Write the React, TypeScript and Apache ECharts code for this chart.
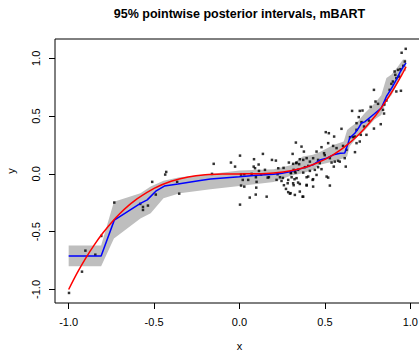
import React, { useEffect, useRef } from "react";
import * as echarts from "echarts";

const TITLE = "95% pointwise posterior intervals, mBART";
const X_TICKS = [-1, -0.5, 0, 0.5, 1];
const Y_TICKS = [-1, -0.5, 0, 0.5, 1];

// observed data points [x, y]
const points: [number, number][] = [
  [-0.998, -1.03], [-0.922, -0.846], [-0.902, -0.664], [-0.844, -0.699], [-0.809, -0.537],
  [-0.733, -0.248], [-0.581, -0.26], [-0.565, -0.286], [-0.565, -0.312], [-0.536, -0.274],
  [-0.511, -0.069], [-0.49, -0.179], [-0.435, -0.006], [-0.429, 0.017], [-0.365, -0.069],
  [-0.353, -0.171],
  [-0.151, 0.087], [-0.161, 0.0], [-0.05, 0.098], [-0.026, 0.063], [0.003, 0.158],
  [0.085, 0.127], [0.137, 0.173], [0.19, 0.121], [0.213, 0.115], [0.311, 0.173],
  [0.112, 0.081], [0.083, 0.063], [0.091, 0.049], [0.149, 0.035], [0.289, 0.098],
  [0.332, 0.093], [0.349, 0.084], [0.227, 0.049], [0.258, 0.052], [0.317, 0.035],
  [0.009, -0.006], [0.028, -0.003], [0.071, 0.0], [0.114, 0.026], [0.126, -0.006],
  [0.172, -0.029], [0.223, -0.003], [0.237, -0.029], [0.254, -0.035], [0.301, 0.011],
  [0.328, 0.011], [0.019, -0.052], [0.051, -0.052], [0.096, -0.029], [0.165, -0.032],
  [0.217, -0.052], [0.246, -0.061], [0.285, -0.052], [0.322, -0.046], [0.343, -0.075],
  [0.1, -0.069], [0.26, -0.098], [0.282, -0.081], [0.317, -0.098], [0.009, -0.101],
  [0.028, -0.11], [0.098, -0.119], [0.285, -0.158], [0.295, -0.171], [0.095, -0.179],
  [0.06, -0.205], [0.159, -0.197], [0.003, -0.266], [0.272, -0.13], [0.369, -0.197],
  [0.393, -0.101], [0.529, -0.101], [0.428, -0.052],
  [0.33, 0.271], [0.363, 0.236], [0.377, 0.193], [0.451, 0.193], [0.48, 0.231],
  [0.495, 0.179], [0.548, 0.242], [0.568, 0.223], [0.606, 0.242], [0.675, 0.323],
  [0.685, 0.266], [0.676, 0.188], [0.616, 0.136], [0.622, 0.063], [0.587, 0.106],
  [0.539, 0.098], [0.529, 0.136], [0.46, 0.121], [0.431, 0.136], [0.412, 0.106],
  [0.393, 0.136], [0.373, 0.121], [0.353, 0.127], [0.334, 0.098], [0.314, 0.087],
  [0.383, 0.058], [0.402, 0.069], [0.46, 0.058], [0.48, 0.041], [0.441, 0.035],
  [0.412, 0.026], [0.373, 0.011], [0.343, 0.035], [0.324, 0.02], [0.301, 0.006],
  [0.305, -0.029], [0.334, -0.037], [0.393, -0.029], [0.431, -0.046], [0.451, -0.009],
  [0.519, -0.032], [0.314, -0.081], [0.353, -0.087], [0.393, -0.095], [0.431, -0.11],
  [0.353, -0.153], [0.299, -0.167], [0.324, -0.182], [0.373, -0.197], [0.51, -0.023],
  [0.402, -0.023], [0.505, 0.361], [0.523, 0.352], [0.554, 0.323], [0.597, 0.39],
  [0.519, 0.266], [0.659, 0.545], [0.72, 0.548], [0.685, 0.439], [0.499, 0.162],
  [0.558, 0.106], [0.577, 0.113], [0.552, 0.063], [0.47, 0.093], [0.704, 0.545],
  [0.698, 0.491], [0.758, 0.461], [0.729, 0.41], [0.743, 0.338], [0.685, 0.381],
  [0.665, 0.318], [0.647, 0.318], [0.626, 0.208],
  [0.973, 1.082], [0.949, 1.048], [0.968, 0.972], [0.959, 0.935], [0.942, 0.906],
  [0.912, 0.857], [0.918, 0.829], [0.889, 0.779], [0.945, 0.719], [0.918, 0.713],
  [0.879, 0.727], [0.787, 0.727], [0.86, 0.635], [0.848, 0.6], [0.811, 0.606],
  [0.796, 0.626], [0.84, 0.554], [0.768, 0.58], [0.846, 0.522], [0.827, 0.43],
  [0.787, 0.392], [0.928, 0.9], [0.908, 0.886], [0.933, 0.842], [0.898, 0.799],
  [0.714, 0.448], [0.71, 0.338], [0.704, 0.28],
];

// 95% pointwise posterior band
const bandX = [-1.0, -0.81, -0.735, -0.58, -0.52, -0.445, -0.35, -0.17, 0.0, 0.2, 0.3, 0.37, 0.43, 0.47, 0.55, 0.61, 0.63, 0.645, 0.69, 0.73, 0.79, 0.83, 0.86, 0.89, 0.92, 0.957, 0.975];
const bandLo = [-0.8, -0.8, -0.56, -0.385, -0.34, -0.21, -0.167, -0.133, -0.105, -0.07, -0.017, 0.006, 0.035, 0.078, 0.107, 0.136, 0.15, 0.24, 0.32, 0.37, 0.47, 0.51, 0.63, 0.68, 0.77, 0.885, 0.89];
const bandHi = [-0.62, -0.62, -0.24, -0.167, -0.11, -0.06, -0.03, 0.0, 0.03, 0.04, 0.075, 0.15, 0.165, 0.19, 0.25, 0.28, 0.38, 0.4, 0.45, 0.52, 0.61, 0.68, 0.83, 0.86, 0.915, 0.99, 0.99];

// mBART posterior mean (blue)
const fitX = [-1.0, -0.81, -0.733, -0.58, -0.54, -0.49, -0.44, -0.36, -0.23, -0.17, 0.0, 0.1, 0.2, 0.25, 0.3, 0.37, 0.43, 0.47, 0.51, 0.55, 0.59, 0.616, 0.636, 0.645, 0.675, 0.694, 0.714, 0.733, 0.79, 0.83, 0.86, 0.89, 0.92, 0.94, 0.96, 0.975];
const fitY = [-0.71, -0.71, -0.4, -0.255, -0.225, -0.15, -0.105, -0.088, -0.058, -0.045, -0.025, -0.011, -0.003, 0.006, 0.02, 0.05, 0.078, 0.12, 0.135, 0.165, 0.178, 0.18, 0.266, 0.31, 0.352, 0.39, 0.44, 0.45, 0.52, 0.57, 0.67, 0.74, 0.82, 0.88, 0.93, 0.96];

// true function (red)
const trueX = [-1.0, -0.95, -0.9, -0.85, -0.8, -0.75, -0.7, -0.65, -0.6, -0.5, -0.4, -0.3, -0.2, -0.1, 0.0, 0.1, 0.2, 0.3, 0.4, 0.5, 0.6, 0.7, 0.8, 0.85, 0.9, 0.95, 0.975];
const trueY = [-1.0, -0.857, -0.729, -0.614, -0.512, -0.422, -0.343, -0.275, -0.216, -0.125, -0.064, -0.027, -0.008, -0.001, 0.0, 0.001, 0.008, 0.027, 0.064, 0.125, 0.216, 0.343, 0.512, 0.614, 0.729, 0.857, 0.927];

const FONT = "'Liberation Sans', Arial, Helvetica, sans-serif";

export default function App() {
  const ref = useRef<HTMLDivElement>(null);
  useEffect(() => {
    document.body.style.margin = "0";
    const chart = echarts.init(ref.current!, null, { renderer: "svg" });
    const fmt = (v: number) => v.toFixed(1);
    chart.setOption({
      animation: false,
      backgroundColor: "#fff",
      textStyle: { fontFamily: FONT },
      grid: {
        left: 55, top: 39, right: -5, bottom: 48,
        outerBoundsMode: "none", containLabel: false,
        show: true, borderColor: "#000", borderWidth: 1, backgroundColor: "transparent",
      },
      graphic: [
        { type: "text", x: 239.5, y: 14, style: { text: TITLE, font: `bold 12.5px ${FONT}`, fill: "#000", textAlign: "center", textVerticalAlign: "middle" } },
      ],
      xAxis: {
        type: "value", min: -1.08, max: 1.08, position: "bottom",
        name: "x", nameLocation: "middle", nameGap: 37,
        nameTextStyle: { fontSize: 11, color: "#000", fontFamily: FONT },
        axisLine: { show: false, onZero: false },
        splitLine: { show: false },
        axisTick: { show: true, length: 6, lineStyle: { color: "#000" }, customValues: X_TICKS },
        axisLabel: { color: "#000", fontSize: 11, margin: 13, fontFamily: FONT, customValues: X_TICKS, formatter: fmt },
      },
      yAxis: {
        type: "value", min: -1.117, max: 1.167, position: "left",
        name: "y", nameLocation: "middle", nameGap: 39, nameRotate: 90,
        nameTextStyle: { fontSize: 11, color: "#000", fontFamily: FONT },
        axisLine: { show: false, onZero: false },
        splitLine: { show: false },
        axisTick: { show: true, length: 6, lineStyle: { color: "#000" }, customValues: Y_TICKS },
        axisLabel: { color: "#000", fontSize: 11, margin: 14, rotate: 90, fontFamily: FONT, customValues: Y_TICKS, formatter: fmt },
      },
      series: [
        {
          type: "custom",
          data: bandX.map((x, i) => [x, bandLo[i], bandHi[i]]),
          encode: { x: 0, y: [1, 2] },
          renderItem: (params: any, api: any) => {
            if (params.dataIndex !== 0) return null;
            const up = bandX.map((x, i) => api.coord([x, bandHi[i]]));
            const lo = bandX.map((x, i) => api.coord([x, bandLo[i]])).reverse();
            return { type: "polygon", shape: { points: up.concat(lo) }, style: { fill: "#BEBEBE", stroke: "none" } };
          },
          z: 1,
        },
        {
          type: "scatter",
          data: points,
          symbol: "rect",
          symbolSize: 2.5,
          itemStyle: { color: "#000" },
          z: 2,
        },
        {
          type: "line",
          data: fitX.map((x, i) => [x, fitY[i]]),
          showSymbol: false,
          lineStyle: { color: "#0000FF", width: 1.5 },
          z: 3,
        },
        {
          type: "line",
          data: trueX.map((x, i) => [x, trueY[i]]),
          showSymbol: false,
          smooth: 0.3,
          lineStyle: { color: "#FF0000", width: 1.5 },
          z: 4,
        },
      ],
    });
    return () => chart.dispose();
  }, []);
  return <div ref={ref} style={{ width: 419, height: 351 }} />;
}
